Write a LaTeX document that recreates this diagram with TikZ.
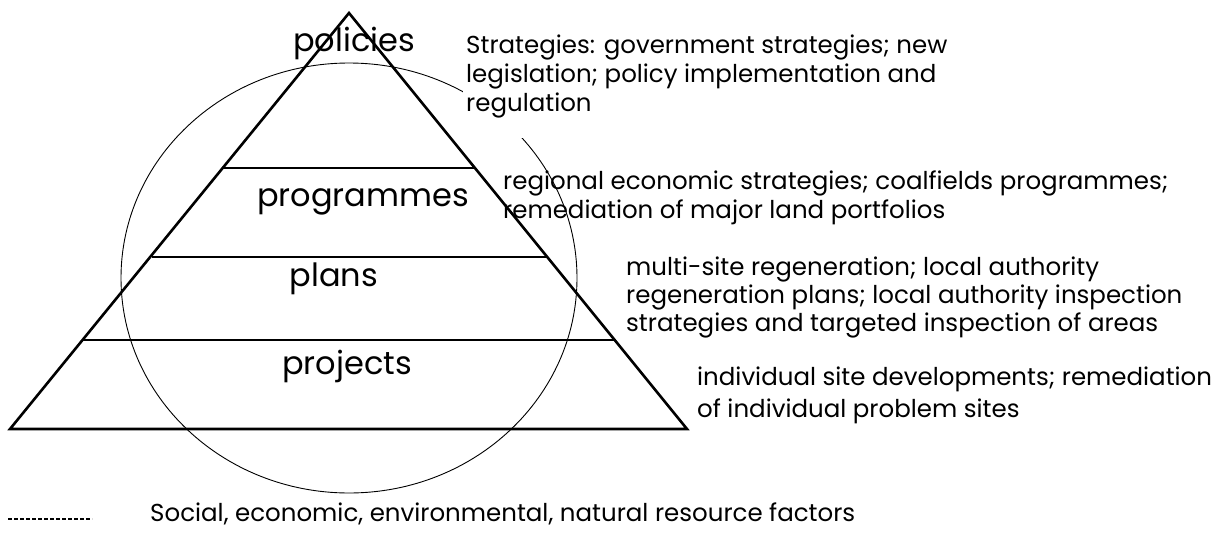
\documentclass[tikz,border=0pt]{standalone}
\usepackage{fontspec}
\setmainfont{Poppins}
\begin{document}
\begin{tikzpicture}[x=1pt,y=-1pt,
  tier/.style={anchor=base,inner sep=0pt,font={\fontsize{32}{38}\selectfont}},
  note/.style={anchor=base west,inner sep=0pt,align=left,font={\fontsize{24.5}{#1}\selectfont}},
  note/.default=29]
\useasboundingbox (0,0) rectangle (1221,533);
\draw[line width=0.9pt] (349,278) ellipse [x radius=228pt,y radius=215pt];
\draw[line width=2.6pt] (349,13) -- (10,429) -- (687,429) -- cycle;
\draw[line width=2.6pt] (222,168) -- (475,168);
\draw[line width=2.6pt] (152,257) -- (546,257);
\draw[line width=2.6pt] (82,340) -- (614,340);
\node (policies) at (354,51) [tier] {policies};
\node (programmes) at (363,206) [tier] {programmes};
\node (plans) at (334,286) [tier] {plans};
\node (projects) at (347,374) [tier] {projects};
% last baselines given
\node (strategies) at (463,111) [note,fill=white,inner xsep=3pt,inner ysep=20pt] {Strategies: government strategies; new\\legislation; policy implementation and\\regulation};
\node (regional) at (503,218) [note=29] {regional economic strategies; coalfields programmes;\\remediation of major land portfolios};
\node (multisite) at (626,331) [note=28] {multi-site regeneration; local authority\\regeneration plans; local authority inspection\\strategies and targeted inspection of areas};
\node (individual) at (697,417) [note=32] {individual site developments; remediation\\of individual problem sites};
\draw[line width=2pt,dash pattern=on 4pt off 2pt] (8,519) -- (92,519);
\node (factors) at (150,521) [note] {Social, economic, environmental, natural resource factors};
\end{tikzpicture}
\end{document}
